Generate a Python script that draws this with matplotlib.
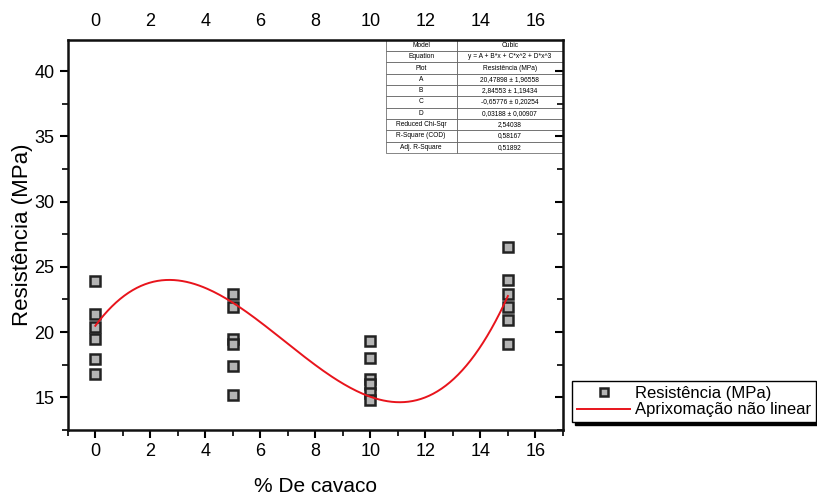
import numpy as np
import matplotlib.pyplot as plt

# data
x0 = [0, 0, 0, 0, 0, 0]
y0 = [23.9, 21.35, 20.4, 19.5, 17.9, 16.75]
x5 = [5, 5, 5, 5, 5, 5]
y5 = [22.9, 21.9, 19.5, 19.1, 17.4, 15.2]
x10 = [10, 10, 10, 10, 10, 10]
y10 = [19.3, 18.0, 16.4, 16.0, 15.35, 14.8]
x15 = [15, 15, 15, 15, 15, 15]
y15 = [26.55, 24.0, 22.9, 21.9, 20.95, 19.05]

xs = x0 + x5 + x10 + x15
ys = y0 + y5 + y10 + y15

# cubic fit parameters from the table (A + Bx + Cx^2 + Dx^3)
coef = [0.03188, -0.65776, 2.84553, 20.47898]

table_rows = [
    ['Model', 'Cubic'],
    ['Equation', 'y = A + B*x + C*x^2 + D*x^3'],
    ['Plot', 'Resistência (MPa)'],
    ['A', '20,47898 ± 1,96558'],
    ['B', '2,84553 ± 1,19434'],
    ['C', '-0,65776 ± 0,20254'],
    ['D', '0,03188 ± 0,00907'],
    ['Reduced Chi-Sqr', '2,54038'],
    ['R-Square (COD)', '0,58167'],
    ['Adj. R-Square', '0,51892'],
]

plt.rcParams['font.family'] = ['Liberation Sans', 'DejaVu Sans']

fig = plt.figure(figsize=(8.17, 4.97), dpi=100)
ax = fig.add_axes([0.083, 0.135, 0.606, 0.785])

ax.plot(xs, ys, 's', markersize=7.5, markerfacecolor='#b4b4b4',
        markeredgecolor='#222222', markeredgewidth=1.8, linestyle='none',
        label='Resistência (MPa)')
xf = np.linspace(0, 15, 200)
ax.plot(xf, np.polyval(coef, xf), color='#e8141c', linewidth=1.4,
        label='Aprixomação não linear')

ax.set_xlim(-1, 17)
ax.set_ylim(13, 42.4)
ax.set_xticks(range(0, 17, 2))
ax.set_xticks(range(-1, 18), minor=True)
ax.set_yticks([15, 20, 25, 30, 35, 40])
ax.set_yticks(np.arange(12.5, 42.5, 2.5), minor=True)
ax.tick_params(which='major', length=6, width=1.5, labelsize=13)
ax.tick_params(which='minor', length=4, width=1.2)
for s in ax.spines.values():
    s.set_linewidth(1.8)
    s.set_color('#111111')
for lab in ax.get_xticklabels():
    lab.set_family(['Liberation Sans Narrow', 'Liberation Sans'])

top = ax.secondary_xaxis('top')
top.set_xticks(range(0, 17, 2))
top.tick_params(direction='in', length=0, labelsize=13, pad=7)
for lab in top.get_xticklabels():
    lab.set_family(['Liberation Sans Narrow', 'Liberation Sans'])
right = ax.secondary_yaxis('right')
right.set_yticks([15, 20, 25, 30, 35, 40])
right.set_yticks(np.arange(12.5, 42.5, 2.5), minor=True)
right.tick_params(which='both', direction='in', labelright=False)
right.tick_params(which='major', length=6, width=1.5)
right.tick_params(which='minor', length=4, width=1.2)

ax.set_xlabel('% De cavaco', fontsize=15, labelpad=12)
ax.set_ylabel('Resistência (MPa)', fontsize=16, labelpad=1, fontweight='medium')

tb = ax.table(cellText=table_rows, cellLoc='center', colWidths=[0.4, 0.6],
              bbox=[0.642, 0.71, 0.358, 0.29])
tb.auto_set_font_size(False)
tb.set_fontsize(4.8)
for (r, c), cell in tb.get_celld().items():
    cell.set_linewidth(0.5)
    cell.set_edgecolor('#555555')
    if c == 0:
        cell._loc = 'left'
        cell.PAD = 0.03

leg = fig.legend(loc='upper left', bbox_to_anchor=(0.700, 0.234), fontsize=12,
                 frameon=True, fancybox=False,
                 shadow={'color': 'black', 'alpha': 1},
                 edgecolor='black', borderpad=0.3, labelspacing=0.1,
                 handlelength=3.2, handletextpad=0.3, borderaxespad=0,
                 markerscale=0.8)

fig.savefig('out.png', dpi=100)
